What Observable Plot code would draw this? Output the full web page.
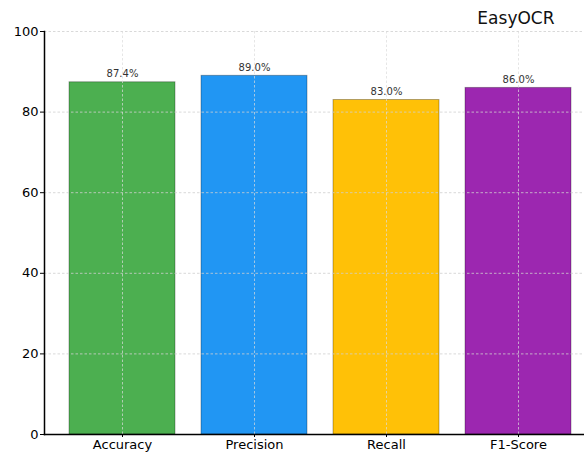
<!DOCTYPE html>
<html><head><meta charset="utf-8">
<script src="https://cdn.jsdelivr.net/npm/d3@7"></script>
<script src="https://cdn.jsdelivr.net/npm/@observablehq/plot@0.6"></script>
<style>body{margin:0;background:#fff;overflow:hidden;}</style>
</head><body><div id="chart"></div>
<script>
const metrics = ["Accuracy", "Precision", "Recall", "F1-Score"];
const values = [87.4, 89.0, 83.0, 86.0];
const valueLabels = ["87.4%", "89.0%", "83.0%", "86.0%"];
const colors = ["#4caf50", "#2196f3", "#ffc107", "#9c27b0"];
const yTicks = [0, 20, 40, 60, 80, 100];
const title = "EasyOCR";

const data = metrics.map((m, i) => ({metric: m, value: values[i], color: colors[i], label: valueLabels[i]}));

const chart = Plot.plot({
  width: 584, height: 453,
  marginLeft: 44, marginRight: 0, marginTop: 31, marginBottom: 19,
  style: {fontFamily: "'DejaVu Sans', sans-serif", background: "#fff", overflow: "visible"},
  x: {domain: metrics, range: [43, 597], paddingInner: 0.2, paddingOuter: 0.19, axis: null, label: null},
  y: {domain: [0, 100], axis: null, label: null},
  marks: [
    Plot.barY(data, {x: "metric", y: "value", fill: "color", stroke: "#000", strokeOpacity: 0.3, strokeWidth: 1}),
    Plot.ruleY(yTicks.slice(1), {stroke: "#d0d0d0", strokeOpacity: 0.8, strokeDasharray: "2.5,2"}),
    Plot.ruleX(metrics, {x: d => d, stroke: "#dcdcdc", strokeOpacity: 0.7, strokeDasharray: "2.5,2"}),
    Plot.text(data, {x: "metric", y: "value", text: "label", lineAnchor: "bottom", dy: -5, fontSize: 10, fill: "#333"}),
    Plot.axisY(yTicks, {tickSize: 4, tickPadding: 2, fontSize: 13, fill: "#000", stroke: "#000", label: null}),
    Plot.axisX(metrics, {tickSize: 3, tickPadding: 2, fontSize: 13, fill: "#000", stroke: "#000", label: null}),
    Plot.frame({anchor: "left", stroke: "#000", strokeWidth: 1.5}),
    Plot.frame({anchor: "bottom", stroke: "#000", strokeWidth: 1.5}),
    Plot.text([title], {frameAnchor: "top-right", dx: -30, dy: -13, lineAnchor: "middle", textAnchor: "end", fontSize: 17, fill: "#111"})
  ]
});
document.getElementById("chart").appendChild(chart);
</script>
</body></html>
